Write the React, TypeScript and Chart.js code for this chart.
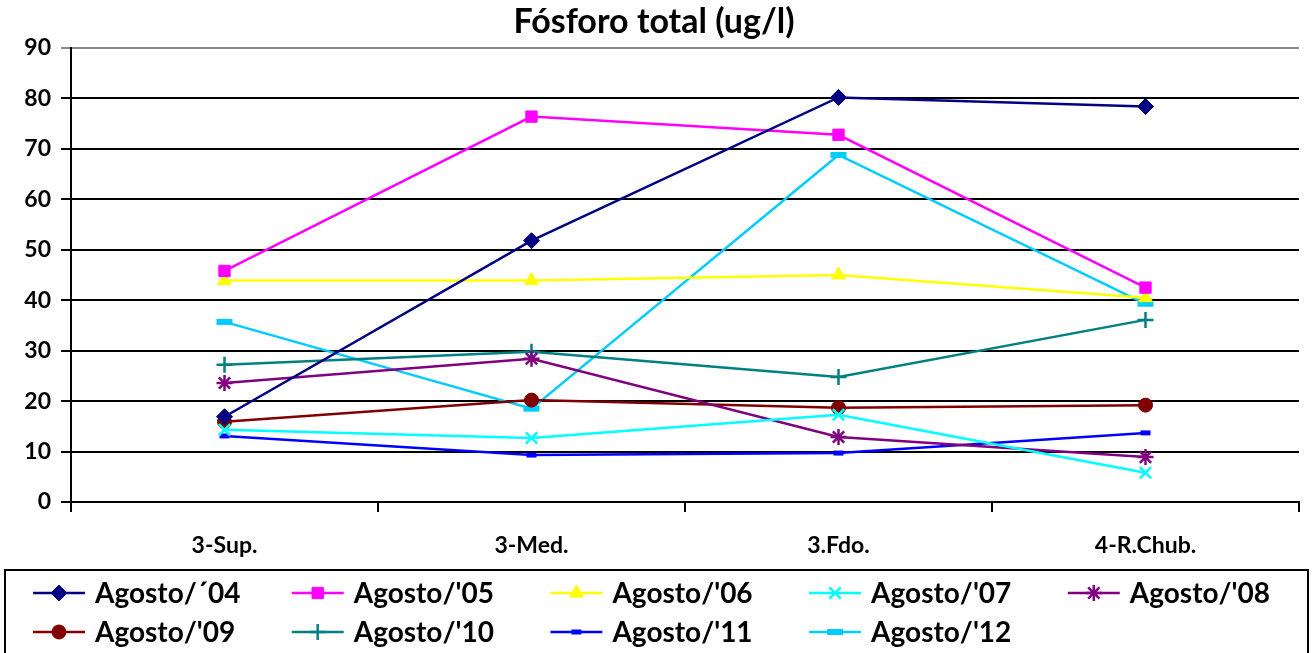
import React, { useEffect, useRef } from "react";
import { Chart, registerables } from "chart.js";
import { drawPoint } from "chart.js/helpers";

Chart.register(...registerables);

const stations = ["3-Sup.", "3-Med.", "3.Fdo.", "4-R.Chub."];

const ago04 = [16.9, 51.8, 80.2, 78.4];
const ago05 = [45.8, 76.4, 72.8, 42.5];
const ago06 = [43.9, 43.9, 45.0, 40.5];
const ago07 = [14.3, 12.7, 17.3, 5.8];
const ago08 = [23.6, 28.4, 12.9, 8.9];
const ago09 = [15.9, 20.2, 18.7, 19.2];
const ago10 = [27.2, 29.8, 24.8, 36.1];
const ago11 = [13.1, 9.3, 9.7, 13.7];
const ago12 = [35.7, 18.5, 68.8, 39.3];

const seriesNames = [
  "Agosto/´04",
  "Agosto/'05",
  "Agosto/'06",
  "Agosto/'07",
  "Agosto/'08",
  "Agosto/'09",
  "Agosto/'10",
  "Agosto/'11",
  "Agosto/'12",
];

const FONT = "Lato, 'DejaVu Sans', sans-serif";

const series = [
  { data: ago04, color: "#000080", style: "rectRot", radius: 8, pbw: 1 },
  { data: ago05, color: "#FF00FF", style: "rect", radius: 8, pbw: 1 },
  { data: ago06, color: "#FFFF00", style: "triangle", radius: 8, pbw: 1 },
  { data: ago07, color: "#00FFFF", style: "crossRot", radius: 8, pbw: 2.5 },
  { data: ago08, color: "#800080", style: "star", radius: 8, pbw: 2.5 },
  { data: ago09, color: "#800000", style: "circle", radius: 7, pbw: 1 },
  { data: ago10, color: "#008080", style: "cross", radius: 8, pbw: 2.5 },
  { data: ago11, color: "#0000FF", style: "line", radius: 5, pbw: 5 },
  { data: ago12, color: "#00CCFF", style: "line", radius: 8, pbw: 6 },
];

// Boxed legend below the plot: five fixed columns, two rows.
const boxedLegend = {
  id: "boxedLegend",
  afterDraw(chart: any) {
    const ctx = chart.ctx;
    ctx.save();
    ctx.strokeStyle = "#000";
    ctx.lineWidth = 2;
    ctx.strokeRect(5, 570, 1303, 120);
    ctx.font = `bold 28px ${FONT}`;
    ctx.textBaseline = "middle";
    ctx.textAlign = "left";
    chart.data.datasets.forEach((ds: any, i: number) => {
      const col = i % 5;
      const row = Math.floor(i / 5);
      const x0 = 33 + col * 258.7;
      const y = 593 + row * 39;
      ctx.strokeStyle = ds.borderColor;
      ctx.lineWidth = 2.5;
      ctx.beginPath();
      ctx.moveTo(x0, y);
      ctx.lineTo(x0 + 52, y);
      ctx.stroke();
      ctx.fillStyle = ds.pointBackgroundColor;
      ctx.strokeStyle = ds.pointBorderColor;
      ctx.lineWidth = ds.pointBorderWidth;
      drawPoint(
        ctx,
        { pointStyle: ds.pointStyle, radius: ds.pointRadius, rotation: 0, borderWidth: ds.pointBorderWidth },
        x0 + 26,
        y
      );
      ctx.fillStyle = "#000";
      ctx.fillText(ds.label, x0 + 62, y + 1);
    });
    ctx.restore();
  },
};

export default function App() {
  const ref = useRef<HTMLCanvasElement | null>(null);

  useEffect(() => {
    if (!ref.current) return;
    const chart = new Chart(ref.current, {
      type: "line",
      data: {
        labels: stations,
        datasets: series.map((s, i) => ({
          label: seriesNames[i],
          data: s.data,
          borderColor: s.color,
          backgroundColor: s.color,
          borderWidth: 2.5,
          pointStyle: s.style as any,
          pointRadius: s.radius,
          pointBackgroundColor: s.color,
          pointBorderColor: s.color,
          pointBorderWidth: s.pbw,
          tension: 0,
          fill: false,
        })),
      },
      options: {
        responsive: false,
        animation: false,
        layout: { padding: { top: 0, left: 0, right: 5, bottom: 0 } },
        plugins: {
          legend: { display: false },
          tooltip: { enabled: false },
          title: {
            display: true,
            text: "Fósforo total (ug/l)",
            color: "#000",
            font: { family: FONT, size: 34, weight: "bold" },
            padding: { top: 2, bottom: 5.2 },
          },
        },
        scales: {
          x: {
            offset: true,
            afterFit(scale: any) {
              scale.height = 151;
            },
            grid: {
              offset: true,
              drawOnChartArea: false,
              drawTicks: true,
              tickLength: 10,
              color: "#000",
              lineWidth: 2,
            },
            border: { display: true, color: "#000", width: 2 },
            ticks: {
              color: "#000",
              padding: 20,
              font: { family: FONT, size: 23, weight: "bold" },
            },
          },
          y: {
            min: 0,
            max: 90,
            afterFit(scale: any) {
              scale.width = 71;
            },
            grid: {
              color: (c: any) => (c.tick && c.tick.value === 90 ? "#888" : "#000"),
              lineWidth: 2,
              drawTicks: true,
              tickLength: 10,
            },
            border: { display: true, color: "#000", width: 2 },
            ticks: {
              stepSize: 10,
              color: "#000",
              padding: 10,
              font: { family: FONT, size: 23, weight: "bold" },
            },
          },
        },
      },
      plugins: [boxedLegend],
    });
    return () => chart.destroy();
  }, []);

  return (
    <div style={{ position: "absolute", left: 0, top: 0, width: 1313, height: 653, background: "#fff" }}>
      <canvas ref={ref} width={1313} height={653} />
    </div>
  );
}
